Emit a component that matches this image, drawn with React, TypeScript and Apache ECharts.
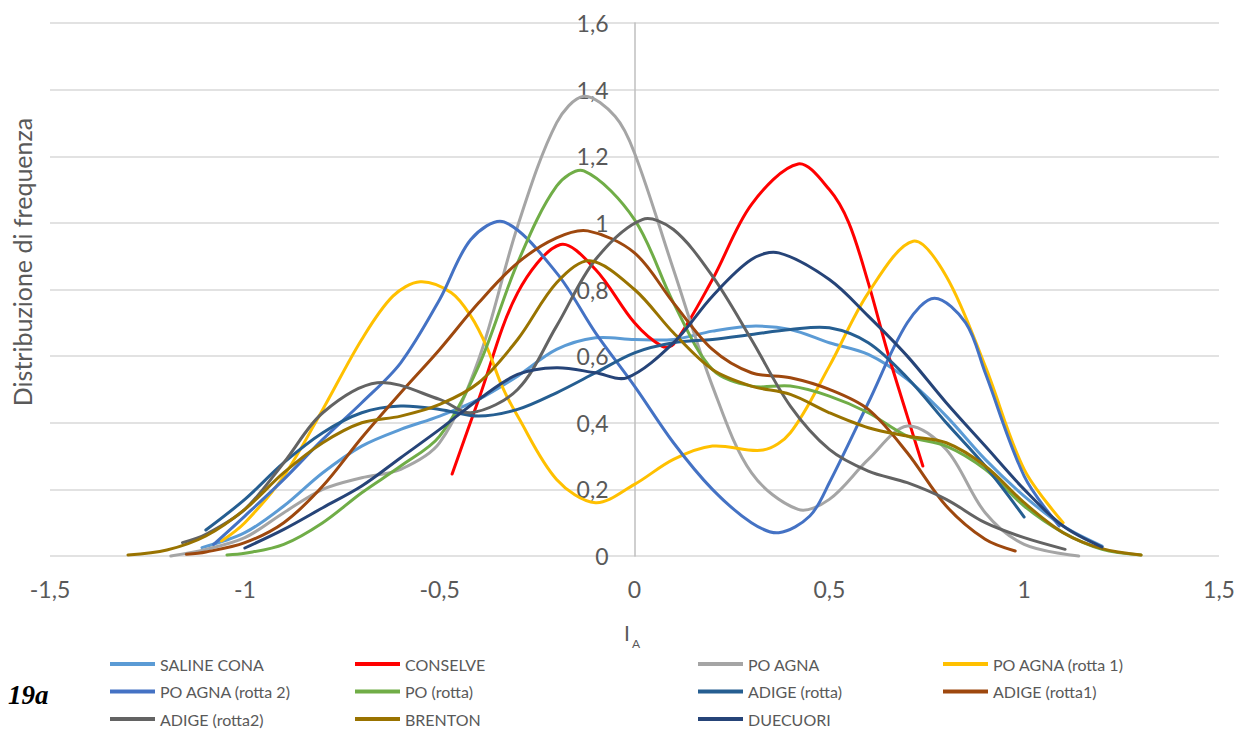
import React, { useEffect, useRef } from "react";
import * as echarts from "echarts";

const FONT = "Lato";
const TEXT_COLOR = "#595959";

// Frequency distributions of I_A for each site, as [I_A, density] pairs
const SALINE_CONA: [number, number][] = [
  [-1.11, 0.025], [-1.0, 0.07], [-0.9, 0.15], [-0.8, 0.25], [-0.7, 0.33], [-0.6, 0.38],
  [-0.5, 0.42], [-0.4, 0.47], [-0.3, 0.54], [-0.2, 0.62], [-0.1, 0.655], [0.0, 0.65],
  [0.1, 0.65], [0.2, 0.675], [0.3, 0.69], [0.4, 0.68], [0.5, 0.64], [0.6, 0.605],
  [0.7, 0.53], [0.8, 0.42], [0.9, 0.29], [1.0, 0.18], [1.1, 0.09], [1.2, 0.03],
];

const CONSELVE: [number, number][] = [
  [-0.468, 0.246], [-0.4, 0.47], [-0.3, 0.79], [-0.19, 0.935], [-0.1, 0.86], [0.0, 0.7],
  [0.07, 0.63], [0.1, 0.635], [0.2, 0.83], [0.3, 1.055], [0.42, 1.177],
  [0.5, 1.1], [0.55, 1.0], [0.6, 0.82], [0.65, 0.61], [0.7, 0.42], [0.74, 0.27],
];

const PO_AGNA: [number, number][] = [
  [-1.19, 0.0], [-1.1, 0.02], [-1.0, 0.055], [-0.9, 0.13], [-0.8, 0.2], [-0.7, 0.235],
  [-0.6, 0.26], [-0.5, 0.34], [-0.4, 0.59], [-0.3, 0.99], [-0.2, 1.3], [-0.13, 1.38],
  [-0.05, 1.32], [0.0, 1.21], [0.1, 0.86], [0.2, 0.51], [0.3, 0.25], [0.42, 0.14],
  [0.5, 0.17], [0.6, 0.29], [0.7, 0.39], [0.8, 0.32], [0.9, 0.13], [1.0, 0.035], [1.14, 0.0],
];

const PO_AGNA_ROTTA1: [number, number][] = [
  [-1.06, 0.045], [-1.0, 0.1], [-0.9, 0.24], [-0.8, 0.44], [-0.7, 0.65], [-0.62, 0.78],
  [-0.55, 0.823], [-0.47, 0.79], [-0.42, 0.72], [-0.38, 0.63], [-0.34, 0.51], [-0.3, 0.42],
  [-0.2, 0.23], [-0.1, 0.16], [0.0, 0.215], [0.1, 0.29], [0.2, 0.33], [0.33, 0.318],
  [0.4, 0.37], [0.5, 0.57], [0.6, 0.79], [0.715, 0.945], [0.8, 0.84], [0.9, 0.57],
  [1.0, 0.26], [1.1, 0.1],
];

const PO_AGNA_ROTTA2: [number, number][] = [
  [-1.08, 0.035], [-1.0, 0.12], [-0.9, 0.23], [-0.8, 0.35], [-0.7, 0.46], [-0.6, 0.58],
  [-0.5, 0.77], [-0.42, 0.95], [-0.335, 1.003], [-0.2, 0.85], [-0.1, 0.67],
  [0.0, 0.51], [0.1, 0.34], [0.2, 0.2], [0.3, 0.1], [0.37, 0.07], [0.45, 0.12],
  [0.5, 0.22], [0.6, 0.46], [0.7, 0.7], [0.77, 0.774], [0.85, 0.7], [0.9, 0.55],
  [1.0, 0.24], [1.09, 0.09],
];

const PO_ROTTA: [number, number][] = [
  [-1.046, 0.003], [-1.0, 0.008], [-0.9, 0.035], [-0.8, 0.1], [-0.7, 0.19], [-0.6, 0.27],
  [-0.5, 0.36], [-0.4, 0.57], [-0.3, 0.88], [-0.2, 1.11], [-0.13, 1.156],
  [0.0, 1.01], [0.1, 0.76], [0.2, 0.56], [0.3, 0.51], [0.4, 0.51], [0.5, 0.48],
  [0.6, 0.43], [0.7, 0.36], [0.8, 0.33], [0.9, 0.26], [1.0, 0.15], [1.1, 0.07],
  [1.2, 0.02], [1.3, 0.003],
];

const ADIGE_ROTTA: [number, number][] = [
  [-1.1, 0.078], [-1.0, 0.17], [-0.9, 0.28], [-0.8, 0.37], [-0.7, 0.43], [-0.6, 0.45],
  [-0.5, 0.44], [-0.4, 0.42], [-0.3, 0.44], [-0.2, 0.49], [-0.1, 0.55], [0.0, 0.61],
  [0.1, 0.64], [0.2, 0.65], [0.3, 0.665], [0.4, 0.68], [0.5, 0.685], [0.6, 0.64],
  [0.7, 0.535], [0.8, 0.4], [0.9, 0.27], [1.0, 0.117],
];

const ADIGE_ROTTA1: [number, number][] = [
  [-1.15, 0.005], [-1.1, 0.012], [-1.0, 0.04], [-0.9, 0.1], [-0.8, 0.21], [-0.7, 0.355],
  [-0.6, 0.49], [-0.5, 0.62], [-0.4, 0.76], [-0.3, 0.88], [-0.2, 0.955], [-0.12, 0.976],
  [0.0, 0.91], [0.1, 0.76], [0.2, 0.62], [0.3, 0.55], [0.4, 0.535],
  [0.5, 0.5], [0.6, 0.44], [0.7, 0.31], [0.8, 0.15], [0.9, 0.05], [0.977, 0.015],
];

const ADIGE_ROTTA2: [number, number][] = [
  [-1.16, 0.04], [-1.1, 0.065], [-1.0, 0.14], [-0.9, 0.28], [-0.8, 0.43], [-0.66, 0.52],
  [-0.5, 0.47], [-0.42, 0.43], [-0.3, 0.5], [-0.2, 0.69],
  [-0.1, 0.89], [0.02, 1.01], [0.1, 0.98], [0.2, 0.84], [0.3, 0.65], [0.4, 0.45],
  [0.5, 0.32], [0.6, 0.255], [0.7, 0.22], [0.8, 0.17], [0.9, 0.1], [1.0, 0.055], [1.105, 0.02],
];

const BRENTON: [number, number][] = [
  [-1.3, 0.003], [-1.2, 0.018], [-1.1, 0.06], [-1.0, 0.14], [-0.9, 0.25], [-0.8, 0.34],
  [-0.7, 0.4], [-0.6, 0.42], [-0.5, 0.455], [-0.4, 0.52], [-0.3, 0.65], [-0.2, 0.82],
  [-0.115, 0.886], [0.0, 0.8], [0.1, 0.67], [0.2, 0.56], [0.3, 0.51],
  [0.4, 0.485], [0.5, 0.43], [0.6, 0.385], [0.7, 0.36], [0.8, 0.34], [0.9, 0.27],
  [1.0, 0.16], [1.1, 0.07], [1.2, 0.022], [1.3, 0.003],
];

const DUECUORI: [number, number][] = [
  [-1.0, 0.024], [-0.9, 0.08], [-0.8, 0.145], [-0.7, 0.21], [-0.6, 0.295], [-0.5, 0.38],
  [-0.4, 0.47], [-0.3, 0.545], [-0.2, 0.565], [-0.1, 0.55], [-0.02, 0.535], [0.1, 0.64],
  [0.2, 0.78], [0.3, 0.89], [0.37, 0.91], [0.5, 0.83], [0.6, 0.72],
  [0.7, 0.6], [0.8, 0.46], [0.9, 0.33], [1.0, 0.2], [1.1, 0.09], [1.2, 0.027],
];

const SERIES_NAMES = [
  "SALINE CONA", "CONSELVE", "PO AGNA", "PO AGNA (rotta 1)",
  "PO AGNA (rotta 2)", "PO (rotta)", "ADIGE (rotta)", "ADIGE (rotta1)",
  "ADIGE (rotta2)", "BRENTON", "DUECUORI",
];
const SERIES_DATA = [
  SALINE_CONA, CONSELVE, PO_AGNA, PO_AGNA_ROTTA1,
  PO_AGNA_ROTTA2, PO_ROTTA, ADIGE_ROTTA, ADIGE_ROTTA1,
  ADIGE_ROTTA2, BRENTON, DUECUORI,
];
const SERIES_COLORS = [
  "#5B9BD5", "#FF0000", "#A5A5A5", "#FFC000",
  "#4472C4", "#70AD47", "#255E91", "#9E480E",
  "#636363", "#997300", "#264478",
];

// Legend columns (the legend reads row by row, four entries per row)
const LEGEND_COLUMNS = [
  { left: 110, names: ["SALINE CONA", "PO AGNA (rotta 2)", "ADIGE (rotta2)"] },
  { left: 355, names: ["CONSELVE", "PO (rotta)", "BRENTON"] },
  { left: 698, names: ["PO AGNA", "ADIGE (rotta)", "DUECUORI"] },
  { left: 943, names: ["PO AGNA (rotta 1)", "ADIGE (rotta1)"] },
];

const GRID_LEFT = 50;
const GRID_RIGHT = 20;
const X_MIN = -1.5;
const X_MAX = 1.5;
const CHART_W = 1239;

const commaDecimal = (v: number) => String(Number(v.toFixed(2))).replace(".", ",");

export default function App() {
  const ref = useRef<HTMLDivElement>(null);

  useEffect(() => {
    if (!ref.current) return;
    const chart = echarts.init(ref.current, null, { renderer: "svg" });

    // the value axis stands at I_A = 0, in the middle of the plot
    const plotW = CHART_W - GRID_LEFT - GRID_RIGHT;
    const zeroOffset = (plotW * (0 - X_MIN)) / (X_MAX - X_MIN);

    // each curve is one smoothed polyline through its points, placed by the axes' scales
    const series = SERIES_NAMES.map((name, i) => ({
      name,
      type: "custom",
      coordinateSystem: "cartesian2d",
      data: SERIES_DATA[i],
      encode: { x: 0, y: 1 },
      itemStyle: { color: SERIES_COLORS[i] },
      silent: true,
      renderItem: (params: any, api: any) => {
        if (params.dataIndex !== 0) return null;
        const points = SERIES_DATA[i].map((p) => api.coord(p));
        return {
          type: "polyline",
          silent: true,
          shape: { points, smooth: 0.33 },
          style: {
            stroke: SERIES_COLORS[i],
            lineWidth: 3,
            fill: "none",
            lineCap: "round",
            lineJoin: "round",
          },
        };
      },
    }));

    const legends = LEGEND_COLUMNS.map((col) => ({
      orient: "vertical",
      left: col.left,
      top: 655,
      padding: 0,
      icon: "rect",
      itemWidth: 45,
      itemHeight: 4,
      itemGap: 9.5,
      selectedMode: false,
      textStyle: { fontSize: 16, color: TEXT_COLOR, fontFamily: FONT, lineHeight: 18 },
      data: col.names,
    }));

    chart.setOption({
      animation: false,
      backgroundColor: "#ffffff",
      textStyle: { fontFamily: FONT },
      grid: {
        left: GRID_LEFT,
        right: GRID_RIGHT,
        top: 23,
        bottom: 175,
        containLabel: false,
        outerBoundsMode: "none",
      },
      xAxis: {
        type: "value",
        min: X_MIN,
        max: X_MAX,
        interval: 0.5,
        axisLine: { show: false, onZero: false },
        axisTick: { show: false },
        splitLine: { show: false },
        axisLabel: {
          fontSize: 23,
          color: TEXT_COLOR,
          fontFamily: FONT,
          margin: 21,
          formatter: commaDecimal,
        },
      },
      yAxis: {
        type: "value",
        position: "left",
        offset: -zeroOffset,
        min: 0,
        max: 1.6,
        interval: 0.2,
        axisLine: { show: true, onZero: false, lineStyle: { color: "#BFBFBF", width: 1.5 } },
        axisTick: { show: false },
        splitLine: { show: true, lineStyle: { color: "#D9D9D9", width: 1.5 } },
        axisLabel: {
          fontSize: 23,
          color: TEXT_COLOR,
          fontFamily: FONT,
          margin: 26,
          formatter: commaDecimal,
        },
      },
      legend: legends,
      series,
      graphic: [
        {
          type: "text",
          x: 22,
          y: 262,
          rotation: Math.PI / 2,
          style: {
            text: "Distribuzione di frequenza",
            fill: TEXT_COLOR,
            fontSize: 25,
            fontFamily: FONT,
            textAlign: "center",
            textVerticalAlign: "middle",
          },
        },
        {
          type: "text",
          x: 624,
          y: 632,
          style: {
            text: "I",
            fill: TEXT_COLOR,
            fontSize: 21,
            fontFamily: FONT,
            textAlign: "left",
            textVerticalAlign: "middle",
          },
        },
        {
          type: "text",
          x: 632,
          y: 643,
          style: {
            text: "A",
            fill: TEXT_COLOR,
            fontSize: 12,
            fontFamily: FONT,
            textAlign: "left",
            textVerticalAlign: "middle",
          },
        },
        {
          type: "text",
          x: 8,
          y: 695,
          style: {
            text: "19a",
            fill: "#000000",
            fontSize: 27,
            fontFamily: "Liberation Serif",
            fontWeight: "bold",
            fontStyle: "italic",
            textAlign: "left",
            textVerticalAlign: "middle",
          },
        },
      ],
    });

    return () => chart.dispose();
  }, []);

  return (
    <div
      ref={ref}
      style={{ position: "fixed", left: 0, top: 0, width: CHART_W, height: 731, background: "#ffffff" }}
    />
  );
}
